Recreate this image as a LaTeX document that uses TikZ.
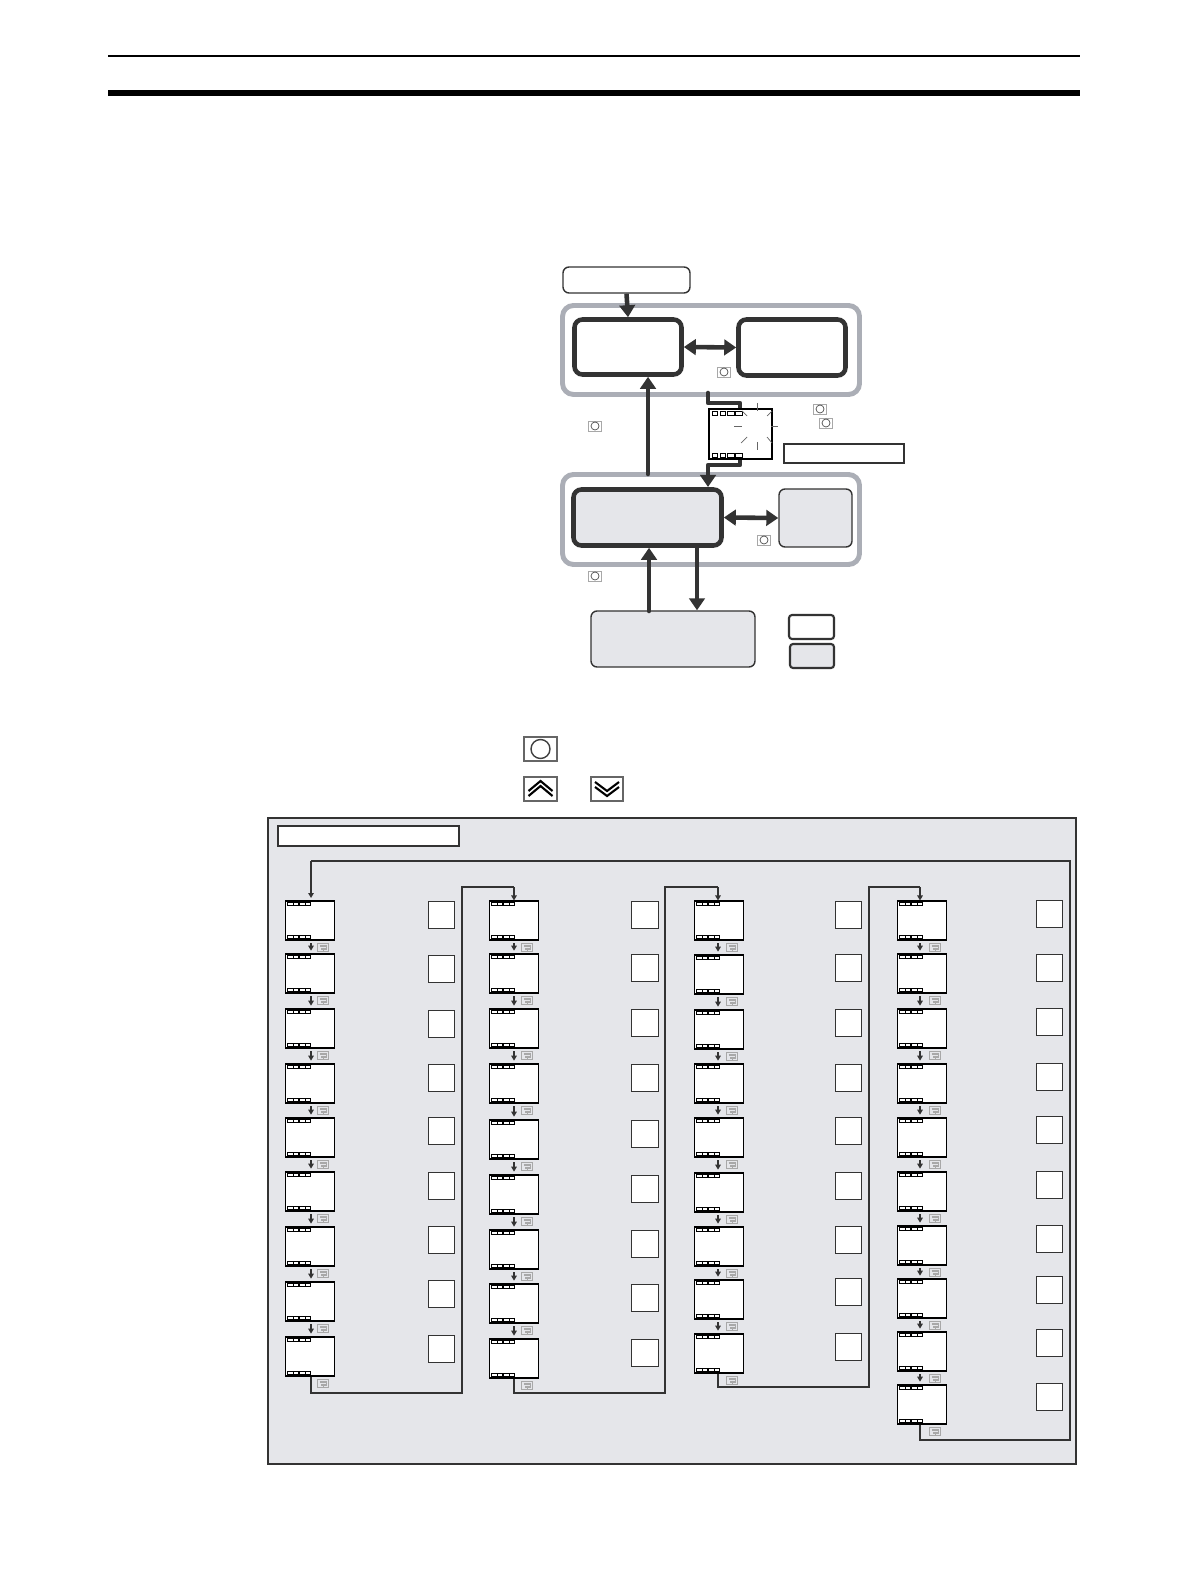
\documentclass[tikz,border=0pt]{standalone}
\usetikzlibrary{arrows.meta,positioning,calc}
\definecolor{darkline}{HTML}{333333}
\definecolor{ringgrey}{HTML}{ABAEB6}
\definecolor{panelgrey}{HTML}{E5E6EA}
\definecolor{keygrey}{HTML}{A8A8A8}
\begin{document}
\begin{tikzpicture}[x=0.01cm,y=-0.01cm]
\tikzset{
  boxsize/.style 2 args={minimum width=#1*0.01cm,minimum height=#2*0.01cm,inner sep=0pt},
  ringbox/.style={rectangle,draw=ringgrey,line width=1.4pt,rounded corners=1.1mm},
  modebox/.style={rectangle,draw=darkline,line width=1.3pt,rounded corners=0.8mm},
  thinbox/.style={rectangle,draw=darkline,line width=0.4pt,rounded corners=0.6mm,fill=panelgrey},
  legendbox/.style={rectangle,draw=darkline,line width=0.6pt,rounded corners=0.3mm},
  labelbox/.style={rectangle,draw=darkline,line width=0.45pt,fill=white},
  display/.style={rectangle,draw=black,line width=0.3pt,fill=white,boxsize={49.4}{39}},
  valuebox/.style={rectangle,draw=darkline,line width=0.28pt,fill=white,boxsize={26.5}{27}},
  keysmall/.style={rectangle,draw=keygrey,line width=0.25pt,fill=white,boxsize={13}{10}},
  keyenter/.style={rectangle,draw=keygrey,line width=0.3pt,fill=panelgrey,boxsize={11}{8}},
  keylarge/.style={rectangle,draw=black!60,line width=0.35pt,fill=white,boxsize={33}{24}},
  bigarrow/.style={-{Triangle[length=0.12cm,width=0.155cm]},draw=darkline,line width=1.3pt},
  bothways/.style={{Triangle[length=0.12cm,width=0.155cm]}-{Triangle[length=0.12cm,width=0.155cm]},draw=darkline,line width=1.3pt},
  wire/.style={draw=darkline,line width=0.52pt},
  wireend/.style={wire,-{Triangle[length=0.05cm,width=0.055cm]}},
  stepdown/.style={-{Triangle[length=0.05cm,width=0.055cm]},draw=darkline,line width=0.55pt,shorten >=0.8pt,shorten <=0.8pt},
  spark/.style={draw=black!60,line width=0.2pt},
  led/.style={draw=black,line width=0.22pt,fill=white},
  chevron/.style={draw=black,line width=0.6pt}
}
\useasboundingbox (0,0) rectangle (1190,1586);
% page rules
\fill[black] (108,54.7) rectangle (1080,56.7);
\fill[black] (108,90) rectangle (1080,96);

% mode groups
\node[ringbox,boxsize={297}{89}] (n_ringtop) at (711,350) {};
\node[ringbox,boxsize={297}{90}] (n_ringlow) at (711,519.5) {};
\node[thinbox,fill=white,boxsize={127}{26}] (n_power) at (626.5,280) {};
\node[modebox,boxsize={107}{55}] (n_run) at (628,347) {};
\node[modebox,boxsize={107}{56}] (n_adjust) at (792,347.5) {};
\node[modebox,fill=panelgrey,boxsize={148}{56}] (n_initial) at (647.5,517.5) {};
\node[thinbox,boxsize={73}{58}] (n_comm) at (815.5,518) {};
\node[thinbox,boxsize={164}{56}] (n_advanced) at (673,639) {};
\node[legendbox,boxsize={45}{24}] (n_legendA) at (811.5,627) {};
\node[legendbox,fill=panelgrey,boxsize={44}{24}] (n_legendB) at (812,656) {};
\node[labelbox,boxsize={120}{19}] (n_stoplabel) at (844,453.5) {};

% arrows between modes
\coordinate (c_runup) at (648,474);
\coordinate (c_stopout) at (708,393);
\coordinate (c_stopin) at (708,487);
\coordinate (c_advup) at (649,611);
\coordinate (c_advdown) at (697,548);
\coordinate (c_stoptop) at (740,409);
\coordinate (c_stopbottom) at (740,459);
\draw[bigarrow] (n_power.south) -- (n_run.north);
\draw[bothways] (n_run.east) -- (n_adjust.west);
\draw[bigarrow,line cap=round] (c_runup) -- (c_runup |- n_run.south);
\draw[darkline,line width=1.3pt,line cap=round,line join=round] (c_stopout) |- (740,403) -- (c_stoptop);
\draw[bigarrow,line join=round] (c_stopbottom) |- (708,465) -- (c_stopin);
\draw[bothways] (n_initial.east) -- (n_comm.west);
\draw[bigarrow,line cap=round] (c_advup) -- (c_advup |- n_initial.south);
\draw[bigarrow] (c_advdown) -- (c_advdown |- n_advanced.north);

% flashing display
\node[rectangle,draw=black,line width=0.35pt,fill=white,boxsize={63}{50}] (n_stop) at (740.5,434) {};
\foreach \ledx/\ledw in {712/5,720/5,727/7,735/7}{
  \draw[led] (\ledx,411.5) rectangle ++(\ledw,4);
  \draw[led] (\ledx,453) rectangle ++(\ledw,4);
}
\draw[spark] (757,403) -- (757,411);
\draw[spark] (757,442) -- (757,450);
\draw[spark] (734,426) -- (742,426);
\draw[spark] (771,426) -- (778,426);
\draw[spark] (742,411) -- (747,416);
\draw[spark] (767,416) -- (772,411);
\draw[spark] (741,443) -- (747,437);
\draw[spark] (767,437) -- (772,443);

% small level keys
\foreach \keyname/\keyx/\keyy in {a/724/372,b/820/409,c/826/423,d/595/426,e/764/540,f/595/576}{
  \node[keysmall] (key_\keyname) at (\keyx,\keyy) {};
  \draw[black!70,line width=0.2pt] (key_\keyname) circle (0.04cm);
}

% key legend
\node[keylarge] (key_level) at (540.5,749) {};
\draw[black!75,line width=0.4pt] (key_level) circle (0.095cm);
\node[keylarge] (key_up) at (540.5,789) {};
\node[keylarge,boxsize={32}{24}] (key_down) at (607,789) {};
\foreach \chevy in {0,5}{
  \draw[chevron] ($(key_up)+(-12,\chevy+2)$) -- ($(key_up)+(0,\chevy-8)$) -- ($(key_up)+(12,\chevy+2)$);
  \draw[chevron] ($(key_down)+(-12,\chevy-7)$) -- ($(key_down)+(0,\chevy+2)$) -- ($(key_down)+(12,\chevy-7)$);
}

% parameter panel
\node[rectangle,draw=darkline,line width=0.42pt,fill=panelgrey,boxsize={808}{646}] (n_panel) at (672,1141) {};
\node[labelbox,boxsize={181}{20}] (n_paneltitle) at (368.5,836) {};

\foreach \col/\dispx/\valx/\disptops/\valtops in {
  1/285/428/{901,954,1009,1064,1118,1172,1227,1282,1337}/{901,955,1010,1064,1117,1172,1226,1280,1335},
  2/489/631.5/{901,954,1009,1064,1120,1175,1230,1284,1339}/{901,954,1009,1064,1120,1175,1230,1284,1339},
  3/694/835/{901,955,1010,1064,1118,1173,1227,1280,1334}/{901,954,1009,1064,1117,1172,1226,1278,1333},
  4/897/1036/{901,954,1009,1064,1118,1172,1226,1279,1332,1385}/{900,954,1008,1063,1116,1171,1225,1276,1329,1383}}{
  \foreach \disptop [count=\i] in \disptops {
    \node[display] (disp_\col_\i) at (\dispx+25,\disptop+19.5) {};
    \foreach \ledoff/\ledw in {2/6,8.3/5,14/6,20.7/5}{
      \draw[led] (\dispx+\ledoff,\disptop+1.3) rectangle ++(\ledw,3.3);
      \draw[led] (\dispx+\ledoff,\disptop+34.1) rectangle ++(\ledw,3.3);
    }
    \node[keyenter] (enter_\col_\i) at (\dispx+38,\disptop+46.5) {};
    \draw[keygrey,line width=0.3pt] ($(enter_\col_\i)+(-3.5,-1.5)$) -- ($(enter_\col_\i)+(3.5,-1.5)$) -- ($(enter_\col_\i)+(3.5,1.5)$) -- ($(enter_\col_\i)+(-2,1.5)$);
    \draw[keygrey,line width=0.3pt] ($(enter_\col_\i)+(0.5,0)$) -- ($(enter_\col_\i)+(0.5,3)$);
  }
  \foreach \valtop [count=\i] in \valtops {
    \node[valuebox] (val_\col_\i) at (\valx+13.5,\valtop+13.5) {};
  }
}
\foreach \col/\last/\shiftx in {1/9/1,2/9/0,3/9/-1,4/10/-2}{
  \foreach \i [remember=\i as \prev (initially 1)] in {2,...,\last}{
    \draw[stepdown] ([xshift=\shiftx*0.01cm]disp_\col_\prev.south) -- ([xshift=\shiftx*0.01cm]disp_\col_\i.north);
  }
}

% wires between columns
\coordinate (c_wire1) at (462,1393);
\coordinate (c_wire2) at (665,1393);
\coordinate (c_wire3) at (869,1387);
\coordinate (c_wire4) at (1070,1440);
\draw[wire] ([xshift=0.01cm]disp_1_9.south) |- (c_wire1) |- (514,887);
\draw[wireend] (514,887) -- (disp_2_1.north);
\draw[wire] (disp_2_9.south) |- (c_wire2) |- (718,887);
\draw[wireend] (718,887) -- ([xshift=-0.01cm]disp_3_1.north);
\draw[wire] ([xshift=-0.01cm]disp_3_9.south) |- (c_wire3) |- (920,887);
\draw[wireend] (920,887) -- ([xshift=-0.02cm]disp_4_1.north);
\draw[wire] ([xshift=-0.02cm]disp_4_10.south) |- (c_wire4) |- (311,861);
\draw[wireend] (311,861) -- (311,898);
\end{tikzpicture}
\end{document}
